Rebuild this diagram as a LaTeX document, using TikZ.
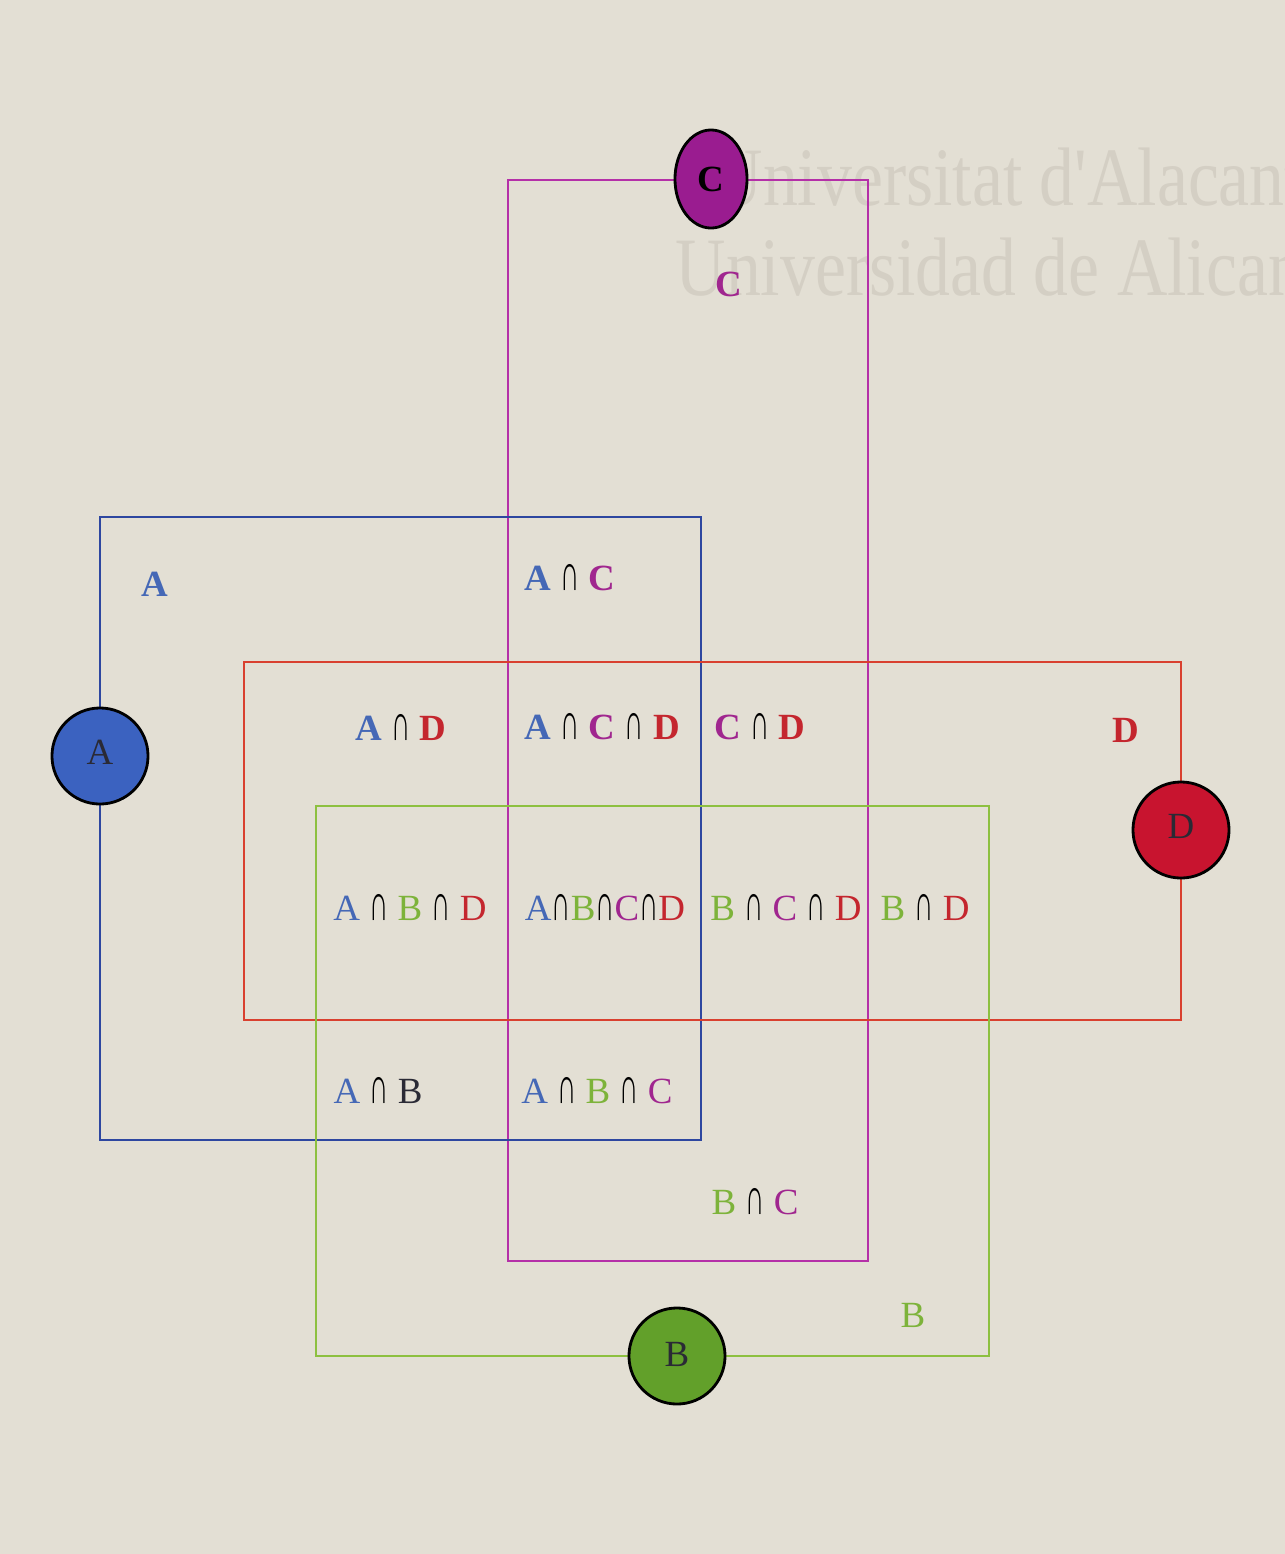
\documentclass[tikz,border=0pt]{standalone}
\usepackage{fontspec}
\usepackage{graphicx}
\setmainfont{Liberation Serif}
\newfontfamily\wmfont{Liberation Serif}[FakeStretch=0.84]
\usetikzlibrary{shapes.geometric,positioning}
\definecolor{parchment}{HTML}{E3DFD4}
\definecolor{watermark}{HTML}{D4CFC4}
\definecolor{cobalt}{HTML}{2E47A0}
\definecolor{cobaltfill}{HTML}{3B62C0}
\definecolor{cobalttext}{HTML}{4568B6}
\definecolor{crimson}{HTML}{D9402F}
\definecolor{crimsonfill}{HTML}{C8142F}
\definecolor{crimsontext}{HTML}{C4262E}
\definecolor{grass}{HTML}{8DC040}
\definecolor{grassfill}{HTML}{62A02A}
\definecolor{grasstext}{HTML}{7DB33A}
\definecolor{plum}{HTML}{B530A8}
\definecolor{plumfill}{HTML}{9A1C90}
\definecolor{plumtext}{HTML}{A0268F}
\definecolor{inkdark}{HTML}{2A2A35}
\newcommand{\isect}{{\normalfont\color{black}\scalebox{0.72}[1.4]{∩}}}
\newcommand{\sA}{{\color{cobalttext}A}}
\newcommand{\sB}{{\color{grasstext}B}}
\newcommand{\sC}{{\color{plumtext}C}}
\newcommand{\sD}{{\color{crimsontext}D}}

\begin{document}
\begin{tikzpicture}[x=0.01cm, y=-0.01cm,
    setline/.style={line width=0.75pt},
    setdot/.style={circle, draw=black, line width=0.8pt, minimum size=0.96cm, inner sep=0pt,
        text=inkdark, font=\fontsize{10.5}{12}\selectfont},
    lbl/.style={inner sep=0pt, font=\fontsize{10.5}{12}\selectfont},
    lblbold/.style={lbl, font=\fontsize{10.5}{12}\selectfont\bfseries}]

    % Page
    \fill[parchment] (0,0) rectangle (1285,1554);
    \useasboundingbox (0,0) rectangle (1285,1554);

    % Watermark
    \begin{scope}
        \clip (0,0) rectangle (1285,1554);
        \node[anchor=base west, inner sep=0pt, text=watermark, font=\fontsize{23.6}{28}\wmfont] (wmone) at (712,205) {Universitat d'Alacant};
        \node[anchor=base west, inner sep=0pt, text=watermark, font=\fontsize{23.6}{28}\wmfont] (wmtwo) at (675,295) {Universidad de Alicante};
    \end{scope}

    % Set outlines
    \draw[setline, plum] (508,180) rectangle (868,1261);
    \draw[setline, cobalt] (100,517) rectangle (701,1140);
    \draw[setline, crimson] (244,662) rectangle (1181,1020);
    \draw[setline, grass] (316,806) rectangle (989,1356);

    % Set markers
    \node[setdot, ellipse, fill=plumfill, minimum width=0.72cm, minimum height=0.98cm,
        font=\fontsize{10.5}{12}\selectfont\bfseries, text=black] (dotC) at (711,179) {C};
    \node[setdot, fill=cobaltfill] (dotA) at (100,756) {\raisebox{2pt}{A}\hspace{6pt}};
    \node[setdot, fill=crimsonfill] (dotD) at (1181,830) {\raisebox{2pt}{D}\hspace{1pt}};
    \node[setdot, fill=grassfill] (dotB) at (677,1356) {\raisebox{1pt}{B}};

    % Set names
    \node[lblbold, text=cobalttext] (nameA) at (155,584) {A};
    \node[lbl, text=grasstext] (nameB) at (913,1315) {B};
    \node[lblbold, text=plumtext] (nameC) at (729,284) {C};
    \node[lblbold, text=crimsontext] (nameD) at (1126,730) {D};

    % Intersections
    \node[lblbold] (AC) at (570,578) {\sA\ \isect\ \sC};
    \node[lblbold] (AD) at (401,728) {\sA\ \isect\ \sD};
    \node[lblbold] (ACD) at (602,727) {\sA\ \isect\ \sC\ \isect\ \sD};
    \node[lblbold] (CD) at (760,727) {\sC\ \isect\ \sD};
    \node[lbl] (ABD) at (410,908) {\sA\ \isect\ \sB\ \isect\ \sD};
    \node[lbl] (ABCD) at (605,908) {\sA\isect\sB\isect\sC\isect\sD};
    \node[lbl] (BCD) at (786,908) {\sB\ \isect\ \sC\ \isect\ \sD};
    \node[lbl] (BD) at (925,908) {\sB\ \isect\ \sD};
    \node[lbl] (AB) at (378,1091) {\sA\ \isect\ {\color{inkdark}B}};
    \node[lbl] (ABC) at (597,1091) {\sA\ \isect\ \sB\ \isect\ \sC};
    \node[lbl] (BC) at (755,1202) {\sB\ \isect\ \sC};

\end{tikzpicture}
\end{document}
